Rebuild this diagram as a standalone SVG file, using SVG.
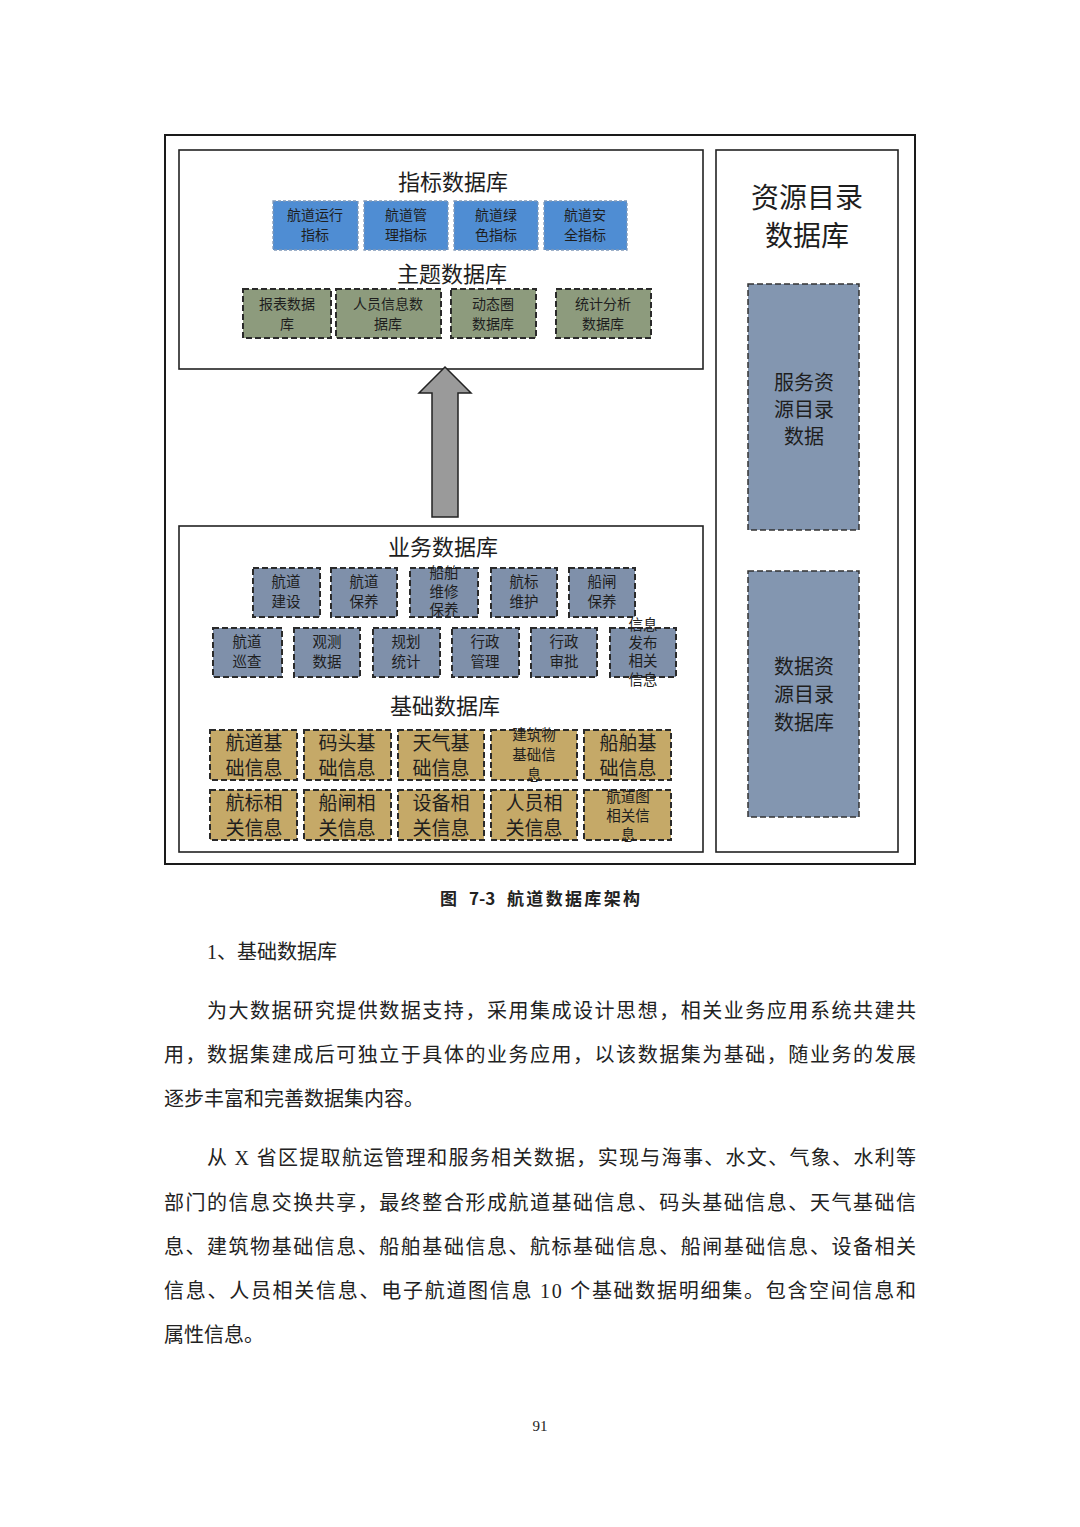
<svg xmlns="http://www.w3.org/2000/svg" width="1080" height="1527" viewBox="0 0 1080 1527">
<style>
.frame{fill:none;stroke:#1a1a1a;stroke-width:2}
.panel{fill:#fff;stroke:#222;stroke-width:1.6}
.t{font-family:"Noto Sans CJK SC","Noto Sans",sans-serif;fill:#1e1e1e;text-anchor:middle}
.h{font-size:22px}
.blue{fill:#4f8dd3;stroke:#7f98b8;stroke-width:1.3;stroke-dasharray:3 2}
.olive{fill:#8d9b7d;stroke:#2a2a2a;stroke-width:2;stroke-dasharray:6 3}
.slate{fill:#7f90aa;stroke:#2a2a2a;stroke-width:2;stroke-dasharray:6 3}
.tan{fill:#c5a968;stroke:#2a2a2a;stroke-width:2;stroke-dasharray:6 3}
.res{fill:#8396b0;stroke:#333;stroke-width:1.5;stroke-dasharray:6 3}
.s14{font-size:14px}
.s15{font-size:14.5px}
.s20{font-size:19px}
.s21{font-size:20px}
.cap{font-family:"Noto Sans CJK SC","Liberation Sans",sans-serif;font-size:17px;font-weight:bold;fill:#222}
.body{font-family:"Liberation Serif","Noto Sans CJK SC",serif;font-size:20px;fill:#222}
</style>
<rect width="1080" height="1527" fill="#fff"/>
<rect class="frame" x="165" y="135" width="750" height="729"/>
<g id="top-panel">
<rect class="panel" x="179" y="150" width="524" height="219"/>
<text class="t h" x="453" y="190">指标数据库</text>
<text class="t h" x="452" y="282">主题数据库</text>
</g>
<g id="idx1"><rect class="blue" x="273" y="201" width="85" height="49"/><text class="t s14" x="315" y="220">航道运行</text><text class="t s14" x="315" y="240">指标</text></g>
<g id="idx2"><rect class="blue" x="364" y="201" width="84" height="49"/><text class="t s14" x="406" y="220">航道管</text><text class="t s14" x="406" y="240">理指标</text></g>
<g id="idx3"><rect class="blue" x="454" y="201" width="84" height="49"/><text class="t s14" x="496" y="220">航道绿</text><text class="t s14" x="496" y="240">色指标</text></g>
<g id="idx4"><rect class="blue" x="544" y="201" width="83" height="49"/><text class="t s14" x="585" y="220">航道安</text><text class="t s14" x="585" y="240">全指标</text></g>
<g id="th1"><rect class="olive" x="243" y="289" width="88" height="49"/><text class="t s14" x="287" y="309">报表数据</text><text class="t s14" x="287" y="329">库</text></g>
<g id="th2"><rect class="olive" x="336" y="289" width="105" height="49"/><text class="t s14" x="388" y="309">人员信息数</text><text class="t s14" x="388" y="329">据库</text></g>
<g id="th3"><rect class="olive" x="451" y="289" width="85" height="49"/><text class="t s14" x="493" y="309">动态圈</text><text class="t s14" x="493" y="329">数据库</text></g>
<g id="th4"><rect class="olive" x="556" y="289" width="95" height="49"/><text class="t s14" x="603" y="309">统计分析</text><text class="t s14" x="603" y="329">数据库</text></g>
<g id="connectors">
<polygon points="445,367 471,393 458,393 458,517 432,517 432,393 419,393" fill="#9a9a9a" stroke="#222" stroke-width="1.5" stroke-linejoin="miter"/>
</g>
<g id="bottom-panel">
<rect class="panel" x="179" y="526" width="524" height="326"/>
<text class="t h" x="443" y="555">业务数据库</text>
<text class="t h" x="445" y="714">基础数据库</text>
</g>
<g id="b1"><rect class="slate" x="253" y="568" width="67" height="49"/><text class="t s15" x="286" y="587">航道</text><text class="t s15" x="286" y="607">建设</text></g>
<g id="b2"><rect class="slate" x="331" y="568" width="66" height="49"/><text class="t s15" x="364" y="587">航道</text><text class="t s15" x="364" y="607">保养</text></g>
<g id="b3"><rect class="slate" x="410" y="568" width="68" height="49"/><text class="t s15" x="444" y="578">船舶</text><text class="t s15" x="444" y="597">维修</text><text class="t s15" x="444" y="615">保养</text></g>
<g id="b4"><rect class="slate" x="491" y="568" width="66" height="49"/><text class="t s15" x="524" y="587">航标</text><text class="t s15" x="524" y="607">维护</text></g>
<g id="b5"><rect class="slate" x="569" y="568" width="66" height="49"/><text class="t s15" x="602" y="587">船闸</text><text class="t s15" x="602" y="607">保养</text></g>
<g id="b6"><rect class="slate" x="213" y="628" width="69" height="49"/><text class="t s15" x="247" y="647">航道</text><text class="t s15" x="247" y="667">巡查</text></g>
<g id="b7"><rect class="slate" x="294" y="628" width="66" height="49"/><text class="t s15" x="327" y="647">观测</text><text class="t s15" x="327" y="667">数据</text></g>
<g id="b8"><rect class="slate" x="373" y="628" width="67" height="49"/><text class="t s15" x="406" y="647">规划</text><text class="t s15" x="406" y="667">统计</text></g>
<g id="b9"><rect class="slate" x="452" y="628" width="67" height="49"/><text class="t s15" x="485" y="647">行政</text><text class="t s15" x="485" y="667">管理</text></g>
<g id="b10"><rect class="slate" x="531" y="628" width="66" height="49"/><text class="t s15" x="564" y="647">行政</text><text class="t s15" x="564" y="667">审批</text></g>
<g id="b11"><rect class="slate" x="610" y="628" width="66" height="49"/><text class="t s15" x="643" y="630">信息</text><text class="t s15" x="643" y="648">发布</text><text class="t s15" x="643" y="666">相关</text><text class="t s15" x="643" y="685">信息</text></g>
<g id="f1"><rect class="tan" x="210" y="730" width="87" height="50"/><text class="t s20" x="254" y="750">航道基</text><text class="t s20" x="254" y="775">础信息</text></g>
<g id="f2"><rect class="tan" x="304" y="730" width="87" height="50"/><text class="t s20" x="347" y="750">码头基</text><text class="t s20" x="347" y="775">础信息</text></g>
<g id="f3"><rect class="tan" x="398" y="730" width="86" height="50"/><text class="t s20" x="441" y="750">天气基</text><text class="t s20" x="441" y="775">础信息</text></g>
<g id="f4"><rect class="tan" x="491" y="730" width="86" height="50"/><text class="t s15" x="534" y="740">建筑物</text><text class="t s15" x="534" y="760">基础信</text><text class="t s15" x="534" y="780">息</text></g>
<g id="f5"><rect class="tan" x="584" y="730" width="87" height="50"/><text class="t s20" x="628" y="750">船舶基</text><text class="t s20" x="628" y="775">础信息</text></g>
<g id="f6"><rect class="tan" x="210" y="790" width="87" height="50"/><text class="t s20" x="254" y="810">航标相</text><text class="t s20" x="254" y="835">关信息</text></g>
<g id="f7"><rect class="tan" x="304" y="790" width="87" height="50"/><text class="t s20" x="347" y="810">船闸相</text><text class="t s20" x="347" y="835">关信息</text></g>
<g id="f8"><rect class="tan" x="398" y="790" width="86" height="50"/><text class="t s20" x="441" y="810">设备相</text><text class="t s20" x="441" y="835">关信息</text></g>
<g id="f9"><rect class="tan" x="491" y="790" width="86" height="50"/><text class="t s20" x="534" y="810">人员相</text><text class="t s20" x="534" y="835">关信息</text></g>
<g id="f10"><rect class="tan" x="584" y="790" width="87" height="50"/><text class="t s15" x="628" y="802">航道图</text><text class="t s15" x="628" y="821">相关信</text><text class="t s15" x="628" y="840">息</text></g>
<g id="resource-panel">
<rect class="panel" x="716" y="150" width="182" height="702"/>
<text class="t" style="font-size:28px" x="807" y="208">资源目录</text>
<text class="t" style="font-size:28px" x="807" y="246">数据库</text>
</g>
<g id="r1"><rect class="res" x="748" y="284" width="111" height="246"/><text class="t s21" x="804" y="390">服务资</text><text class="t s21" x="804" y="417">源目录</text><text class="t s21" x="804" y="444">数据</text></g>
<g id="r2"><rect class="res" x="748" y="571" width="111" height="246"/><text class="t s21" x="804" y="674">数据资</text><text class="t s21" x="804" y="702">源目录</text><text class="t s21" x="804" y="730">数据库</text></g>
<text class="cap" y="905"><tspan x="440">图</tspan><tspan x="469">7-3</tspan><tspan x="507" textLength="133" lengthAdjust="spacing">航道数据库架构</tspan></text>
<text class="body" x="207" y="959">1、基础数据库</text>
<text class="body" x="207" y="1018" textLength="709" lengthAdjust="spacing">为大数据研究提供数据支持，采用集成设计思想，相关业务应用系统共建共</text>
<text class="body" x="164" y="1062" textLength="752" lengthAdjust="spacing">用，数据集建成后可独立于具体的业务应用，以该数据集为基础，随业务的发展</text>
<text class="body" x="164" y="1106">逐步丰富和完善数据集内容。</text>
<text class="body" x="207" y="1165" textLength="709" lengthAdjust="spacing">从 X 省区提取航运管理和服务相关数据，实现与海事、水文、气象、水利等</text>
<text class="body" x="164" y="1210" textLength="752" lengthAdjust="spacing">部门的信息交换共享，最终整合形成航道基础信息、码头基础信息、天气基础信</text>
<text class="body" x="164" y="1254" textLength="752" lengthAdjust="spacing">息、建筑物基础信息、船舶基础信息、航标基础信息、船闸基础信息、设备相关</text>
<text class="body" x="164" y="1298" textLength="752" lengthAdjust="spacing">信息、人员相关信息、电子航道图信息 10 个基础数据明细集。包含空间信息和</text>
<text class="body" x="164" y="1342">属性信息。</text>
<text class="body" style="font-size:15px;text-anchor:middle" x="540" y="1431">91</text>
</svg>
